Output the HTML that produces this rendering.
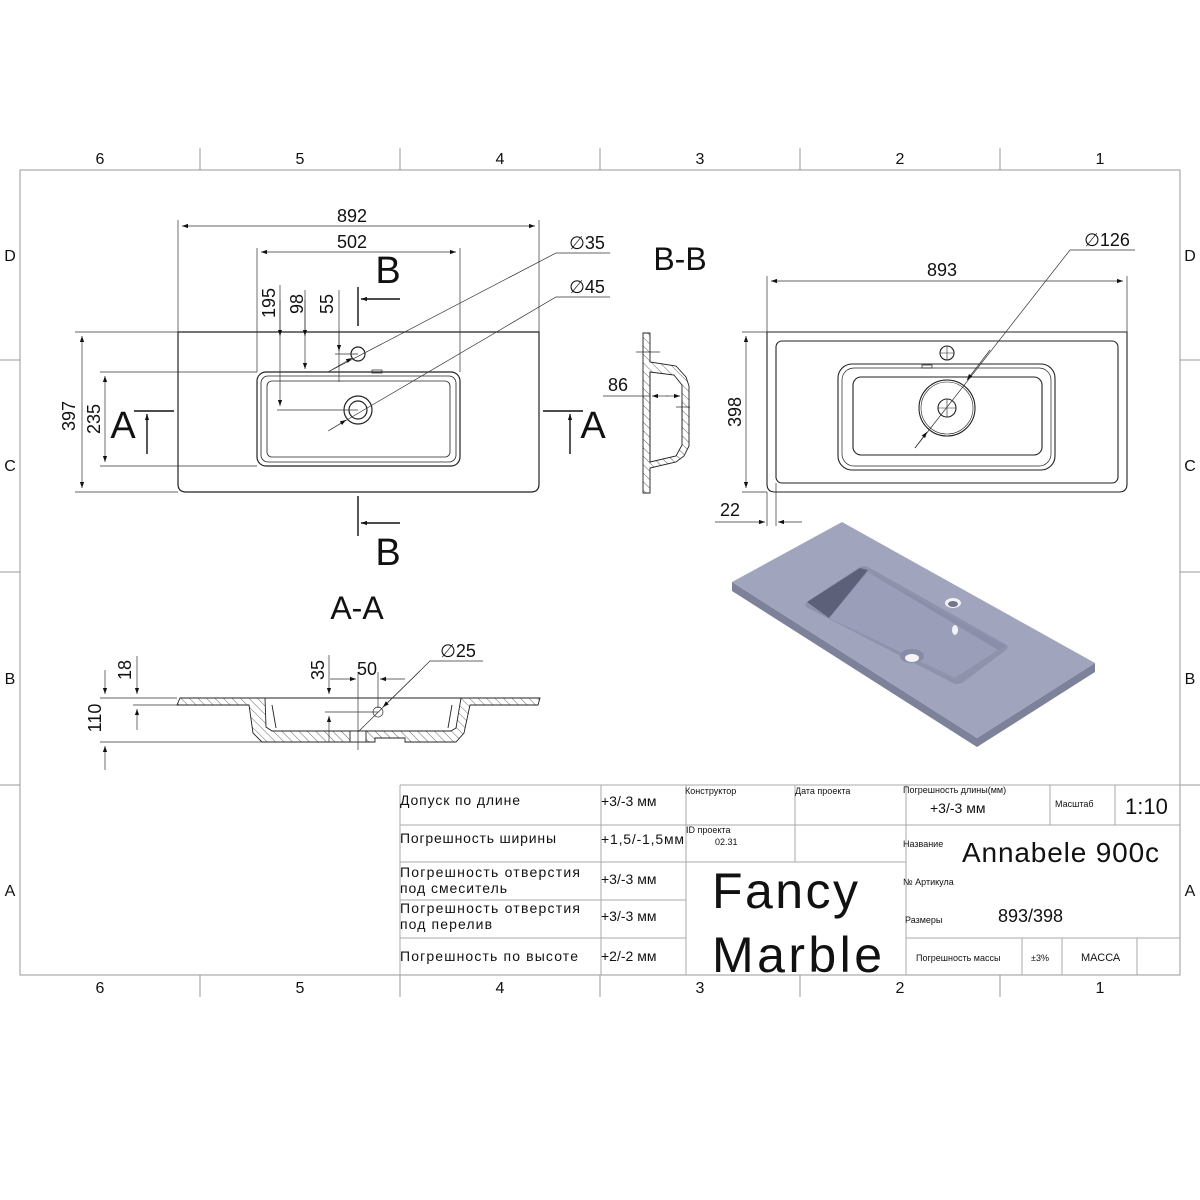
<!DOCTYPE html>
<html><head><meta charset="utf-8"><style>
html,body{margin:0;padding:0;background:#fff}
svg{display:block}
text{font-family:"Liberation Sans","DejaVu Sans",sans-serif;fill:#111}
.t{font-family:"Liberation Sans","DejaVu Sans",sans-serif}
</style></head><body>
<svg width="1200" height="1200" viewBox="0 0 1200 1200" xmlns="http://www.w3.org/2000/svg">
<defs>
<marker id="ar" viewBox="0 0 10 10" refX="10" refY="5" markerWidth="9" markerHeight="6" orient="auto-start-reverse" markerUnits="userSpaceOnUse"><path d="M0,1.5 L10,5 L0,8.5 Z" fill="#111"/></marker>
<pattern id="h" width="6" height="6" patternUnits="userSpaceOnUse" patternTransform="rotate(-45)"><line x1="0" y1="0" x2="0" y2="6" stroke="#555" stroke-width="0.9"/></pattern>
</defs>
<rect width="1200" height="1200" fill="#fff"/>
<!-- frame -->
<g stroke="#999" stroke-width="1" fill="none">
<rect x="20" y="170" width="1160" height="805"/>
<path d="M200,148V170M400,148V170M600,148V170M800,148V170M1000,148V170"/>
<path d="M200,975V997M400,975V997M600,975V997M800,975V997M1000,975V997"/>
<path d="M0,360H20M0,572H20M0,785H20M1180,360H1200M1180,572H1200M1180,785H1200"/>
</g>
<g font-size="16" text-anchor="middle" fill="#333">
<text x="100" y="164">6</text><text x="300" y="164">5</text><text x="500" y="164">4</text><text x="700" y="164">3</text><text x="900" y="164">2</text><text x="1100" y="164">1</text>
<text x="100" y="993">6</text><text x="300" y="993">5</text><text x="500" y="993">4</text><text x="700" y="993">3</text><text x="900" y="993">2</text><text x="1100" y="993">1</text>
<text x="10" y="261">D</text><text x="10" y="471">C</text><text x="10" y="684">B</text><text x="10" y="896">A</text>
<text x="1190" y="261">D</text><text x="1190" y="471">C</text><text x="1190" y="684">B</text><text x="1190" y="896">A</text>
</g>

<!-- LEFT PLAN -->
<g fill="none" stroke="#222" stroke-width="1.2">
<path d="M178,332H539V484Q539,492 531,492H186Q178,492 178,484Z"/>
<rect x="257" y="372" width="203" height="94" rx="9"/>
<rect x="261" y="376" width="195" height="86" rx="7" stroke-width="0.8"/>
<rect x="267" y="381" width="183" height="76" rx="5" stroke-width="0.8"/>
<circle cx="358" cy="354" r="7"/>
<circle cx="358" cy="410" r="14"/>
<circle cx="358" cy="410" r="9"/>
<rect x="372" y="370" width="10" height="3" stroke-width="0.7"/>
</g>
<g stroke="#333" stroke-width="0.7" fill="none">
<path d="M178,332V220M539,332V220M257,372V248M460,372V248"/>
<path d="M182,226H535" marker-start="url(#ar)" marker-end="url(#ar)"/>
<path d="M261,252H456" marker-start="url(#ar)" marker-end="url(#ar)"/>
<path d="M75,332H178M75,492H178M100,372H257M100,466H257"/>
<path d="M82,336V488" marker-start="url(#ar)" marker-end="url(#ar)"/>
<path d="M105,376V462" marker-start="url(#ar)" marker-end="url(#ar)"/>
<path d="M280,285V406" marker-end="url(#ar)"/><path d="M280,300V336" marker-end="url(#ar)"/>
<path d="M277,410H358"/>
<path d="M305,290V369" marker-end="url(#ar)"/><path d="M305,300V336" marker-end="url(#ar)"/>
<path d="M339,290V382"/><path d="M339,330V351" marker-end="url(#ar)"/><path d="M335,354H358"/>
<path d="M610,253H556L328,372"/><path d="M328,372L352,358" marker-end="url(#ar)"/>
<path d="M610,297H556L328,431"/><path d="M330,430L346,420" marker-end="url(#ar)"/>
</g>
<g stroke="#111" stroke-width="1.4" fill="none">
<path d="M134,411H174M543,411H583M358,287V326M358,496V536"/>
<path d="M147,454V414" marker-end="url(#ar)"/>
<path d="M570,454V414" marker-end="url(#ar)"/>
<path d="M400,299H361" marker-end="url(#ar)"/>
<path d="M400,523H361" marker-end="url(#ar)"/>
</g>
<g font-size="18" text-anchor="middle">
<text x="352" y="222">892</text>
<text x="352" y="248">502</text>
<text transform="translate(75,416) rotate(-90)">397</text>
<text transform="translate(100,419) rotate(-90)">235</text>
<text transform="translate(275,303) rotate(-90)">195</text>
<text transform="translate(303,304) rotate(-90)">98</text>
<text transform="translate(333,304) rotate(-90)">55</text>
<text x="587" y="249">∅35</text>
<text x="587" y="293">∅45</text>
</g>
<g font-size="38" text-anchor="middle">
<text x="123" y="438">A</text><text x="593" y="438">A</text>
<text x="388" y="283">B</text><text x="388" y="565">B</text>
</g>
<g font-size="32" text-anchor="middle">
<text x="357" y="619">A-A</text><text x="680" y="270">B-B</text>
</g>

<!-- B-B section -->
<g stroke="#222" stroke-width="0.9">
<path fill="url(#h)" fill-rule="evenodd" d="M643,333H650V362L676,366L686,377L689,386V446L684,456L676,462L650,468V493H643Z M650,372L674,375L682,385V445L676,456L650,462Z"/>
<path fill="none" d="M650,372V462M682,400V430"/>
</g>
<g stroke="#333" stroke-width="0.7" fill="none">
<path d="M636,352H660M676,407H690M603,396H650"/>
<path d="M668,396H652" marker-end="url(#ar)"/><path d="M666,396H680" marker-end="url(#ar)"/>
</g>
<text x="618" y="391" font-size="18" text-anchor="middle">86</text>

<!-- RIGHT PLAN -->
<g fill="none" stroke="#222" stroke-width="1.1">
<path d="M767,332H1127V484Q1127,492 1119,492H775Q767,492 767,484Z"/>
<rect x="776" y="341" width="342" height="142" rx="6"/>
<rect x="838" y="364" width="217" height="106" rx="14"/>
<rect x="842" y="368" width="209" height="98" rx="12" stroke-width="0.7"/>
<rect x="853" y="377" width="189" height="78" rx="8"/>
<circle cx="947" cy="408" r="28"/><circle cx="947" cy="408" r="26" stroke-width="0.6"/>
<circle cx="947" cy="408" r="9"/>
<path d="M938,408H956M947,399V417" stroke-width="0.6"/>
<circle cx="947" cy="353" r="7"/>
<path d="M940,353H954M947,346V360" stroke-width="0.6"/>
<rect x="922" y="365" width="10" height="3" stroke-width="0.7"/>
</g>
<g stroke="#333" stroke-width="0.7" fill="none">
<path d="M767,332V276M1127,332V276M742,332H767M742,492H767M767,492V526M776,483V526"/>
<path d="M771,281H1123" marker-start="url(#ar)" marker-end="url(#ar)"/>
<path d="M746,336V488" marker-start="url(#ar)" marker-end="url(#ar)"/>
<path d="M715,522H765" marker-end="url(#ar)"/><path d="M802,522H778" marker-end="url(#ar)"/>
<path d="M1135,250H1070L915,448"/>
<path d="M990,350L967,380" marker-end="url(#ar)"/>
<path d="M915,448L927,432" marker-end="url(#ar)"/>
</g>
<g font-size="18" text-anchor="middle">
<text x="942" y="276">893</text>
<text transform="translate(741,412) rotate(-90)">398</text>
<text x="730" y="516">22</text>
<text x="1107" y="246">∅126</text>
</g>

<!-- 3D view -->
<g stroke="none">
<path d="M732,582L977,738L1095,663L1095,672L977,747L732,591Z" fill="#7d8199"/>
<path d="M842,522L1095,663L977,738L732,582Z" fill="#a0a4bd"/>
<path d="M807,602Q803,605 808,608L953,683Q958,685 962,683L1006,650Q1010,647 1005,644L868,567Q863,565 858,568Z" fill="#8e92ab"/>
<path d="M807,602L860,568L868,570L829,618Z" fill="#5c6078"/>
<path d="M860,568L1005,646L998,650L868,572Z" fill="#8a8ea8"/>
<path d="M829,618L868,572L998,650L955,678Z" fill="#9a9eb8"/>
<ellipse cx="953" cy="603" rx="8" ry="5" fill="#f2f2f6"/><ellipse cx="953" cy="604" rx="5" ry="3" fill="#70748c"/>
<ellipse cx="955" cy="630" rx="3" ry="5" fill="#f2f2f6"/>
<ellipse cx="912" cy="656" rx="12" ry="7" fill="#878ba5"/><ellipse cx="912" cy="658" rx="7" ry="4" fill="#f4f4f7"/>
</g>

<!-- A-A section -->
<g stroke="#222" stroke-width="0.9">
<path fill="url(#h)" fill-rule="evenodd" d="M180,698H540L538,705H470L464,733L456,742H405V738H375V742H262L253,733L249,705H177Z M265,698H461L456,728L451,731H272L266,727Z"/>
<rect x="350" y="731" width="16" height="11" fill="#fff"/>
<path fill="none" d="M272,705L276,728M452,705L448,728"/>
</g>
<g stroke="#333" stroke-width="0.7" fill="none">
<path d="M100,698H177M133,705H177M100,742H262"/>
<path d="M105,670V694" marker-end="url(#ar)"/><path d="M105,770V746" marker-end="url(#ar)"/>
<path d="M137,656V694" marker-end="url(#ar)"/><path d="M137,730V709" marker-end="url(#ar)"/>
<path d="M329,655V694" marker-end="url(#ar)"/><path d="M329,742V716" marker-end="url(#ar)"/>
<path d="M325,712H378"/>
<path d="M358,672V750M378,672V708"/>
<path d="M330,679H356" marker-end="url(#ar)"/><path d="M405,679H380" marker-end="url(#ar)"/>
<path d="M483,661H430L358,732"/><path d="M420,671L383,707" marker-end="url(#ar)"/>
<circle cx="378" cy="712" r="5"/>
</g>
<g font-size="18" text-anchor="middle">
<text transform="translate(101,718) rotate(-90)">110</text>
<text transform="translate(131,670) rotate(-90)">18</text>
<text transform="translate(324,670) rotate(-90)">35</text>
<text x="367" y="675">50</text>
<text x="458" y="657">∅25</text>
</g>

<!-- TITLE BLOCK -->
<g stroke="#aaa" stroke-width="1" fill="none">
<path d="M400,785H1180M400,825H1180M400,862H906M400,900H686M400,938H686M906,938H1180"/>
<path d="M400,785V975M601,785V975M686,785V975M795,785V862M906,785V975M1050,785V825M1115,785V825M1022,938V975M1062,938V975M1137,938V975"/>
</g>
<g font-family="Liberation Sans, DejaVu Sans, sans-serif">
<g font-size="14">
<text x="400" y="805" textLength="120">Допуск по длине</text>
<text x="400" y="843" textLength="156">Погрешность ширины</text>
<text x="400" y="877" textLength="180">Погрешность отверстия</text>
<text x="400" y="893" textLength="107">под смеситель</text>
<text x="400" y="913" textLength="180">Погрешность отверстия</text>
<text x="400" y="929" textLength="92">под перелив</text>
<text x="400" y="961" textLength="178">Погрешность по высоте</text>
<text x="601" y="806">+3/-3 мм</text>
<text x="601" y="844" textLength="83">+1,5/-1,5мм</text>
<text x="601" y="884">+3/-3 мм</text>
<text x="601" y="921">+3/-3 мм</text>
<text x="601" y="961">+2/-2 мм</text>
<text x="930" y="813">+3/-3 мм</text>
</g>
<g font-size="9">
<text x="685" y="794">Конструктор</text>
<text x="795" y="794">Дата проекта</text>
<text x="903" y="793">Погрешность длины(мм)</text>
<text x="1055" y="807">Масштаб</text>
<text x="686" y="833">ID проекта</text>
<text x="715" y="845">02.31</text>
<text x="903" y="847">Название</text>
<text x="903" y="885">№ Артикула</text>
<text x="905" y="923">Размеры</text>
<text x="916" y="961">Погрешность массы</text>
<text x="1031" y="961">±3%</text>
</g>
<text x="1081" y="961" font-size="11">МАССА</text>
<text x="1125" y="814" font-size="22">1:10</text>
<text x="962" y="862" font-size="28" textLength="197">Annabele 900c</text>
<text x="998" y="922" font-size="18">893/398</text>
<text x="712" y="908" font-size="50" textLength="146">Fancy</text>
<text x="712" y="972" font-size="50" textLength="170">Marble</text>
</g>
</svg>
</body></html>
